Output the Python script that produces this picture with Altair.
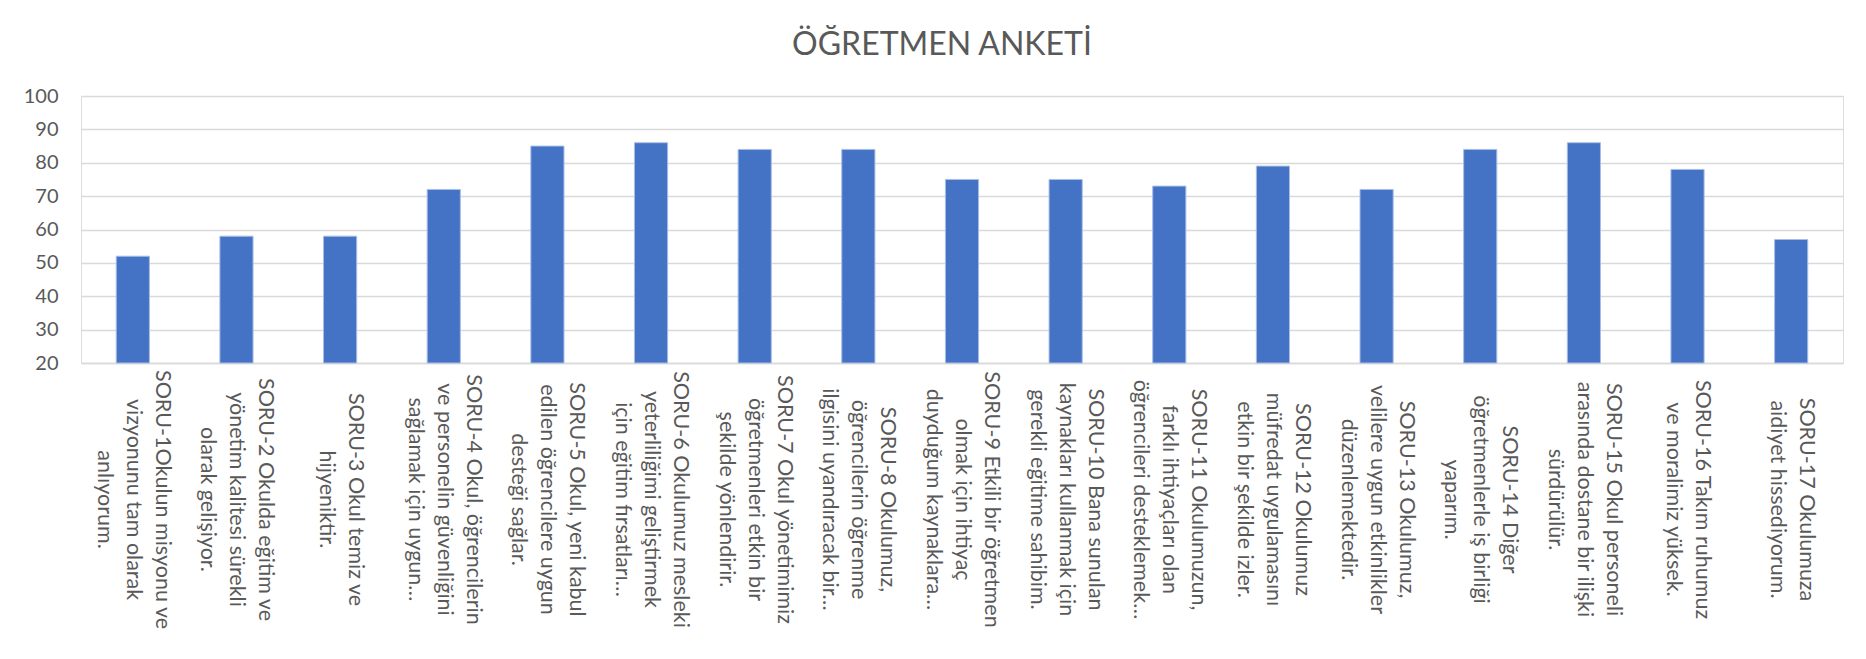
import altair as alt
import pandas as pd

title_text = "ÖĞRETMEN ANKETİ"

questions = [
    ["SORU-1Okulun misyonu ve", "vizyonunu tam olarak", "anlıyorum."],
    ["SORU-2 Okulda eğitim ve", "yönetim kalitesi sürekli", "olarak gelişiyor."],
    ["SORU-3 Okul temiz ve", "hijyeniktir."],
    ["SORU-4 Okul, öğrencilerin", "ve personelin güvenliğini", "sağlamak için uygun…"],
    ["SORU-5 Okul, yeni kabul", "edilen öğrencilere uygun", "desteği sağlar."],
    ["SORU-6 Okulumuz mesleki", "yeterliliğimi geliştirmek", "için eğitim fırsatları…"],
    ["SORU-7 Okul yönetimimiz", "öğretmenleri etkin bir", "şekilde yönlendirir."],
    ["SORU-8 Okulumuz,", "öğrencilerin öğrenme", "ilgisini uyandıracak bir…"],
    ["SORU-9 Etkili bir öğretmen", "olmak için ihtiyaç", "duyduğum kaynaklara…"],
    ["SORU-10 Bana sunulan", "kaynakları kullanmak için", "gerekli eğitime sahibim."],
    ["SORU-11 Okulumuzun,", "farklı ihtiyaçları olan", "öğrencileri desteklemek…"],
    ["SORU-12 Okulumuz", "müfredat uygulamasını", "etkin bir şekilde izler."],
    ["SORU-13 Okulumuz,", "velilere uygun etkinlikler", "düzenlemektedir."],
    ["SORU-14 Diğer", "öğretmenlerle iş birliği", "yaparım."],
    ["SORU-15 Okul personeli", "arasında dostane bir ilişki", "sürdürülür."],
    ["SORU-16 Takım ruhumuz", "ve moralimiz yüksek."],
    ["SORU-17 Okulumuza", "aidiyet hissediyorum."],
]

scores = [52, 58, 58, 72, 85, 86, 84, 84, 75, 75, 73, 79, 72, 84, 86, 78, 57]

y_ticks = [20, 30, 40, 50, 60, 70, 80, 90, 100]

df = pd.DataFrame({"soru": ["|".join(q) for q in questions], "puan": scores})

FONT = "Lato"
TEXT_COLOR = "#595959"
GRID = "#D9D9D9"
LINE_H = 29

bars = alt.Chart(df).mark_bar(
    color="#4472C4", stroke="#A9BEE6", strokeWidth=1
).encode(
    x=alt.X(
        "soru:N",
        sort=None,
        title=None,
        scale=alt.Scale(paddingInner=0.68, paddingOuter=0.34),
        axis=alt.Axis(
            labelAngle=90,
            labelAlign="center",
            labelBaseline="middle",
            labelExpr="split(datum.label, '|')",
            labelOffset={
                "condition": {
                    "test": "length(split(datum.label, '|')) == 3",
                    "value": LINE_H,
                },
                "value": LINE_H / 2,
            },
            labelFont=FONT,
            labelFontSize=21.5,
            labelLineHeight=LINE_H,
            labelColor=TEXT_COLOR,
            labelPadding=136,
            labelLimit=400,
            ticks=False,
            domain=True,
            domainColor=GRID,
            domainWidth=1.5,
        ),
    ),
    y=alt.Y(
        "puan:Q",
        title=None,
        scale=alt.Scale(domain=[20, 100], zero=False, nice=False),
        axis=alt.Axis(
            values=y_ticks,
            labelFont=FONT,
            labelFontSize=20,
            labelColor=TEXT_COLOR,
            labelPadding=23,
            ticks=False,
            domain=False,
            gridColor=GRID,
            gridWidth=1.5,
        ),
    ),
    y2=alt.datum(20),
)

chart = bars.properties(
    width=1762,
    height=267,
    autosize=alt.AutoSizeParams(type="none"),
    padding={"left": 73, "top": 88, "right": 12, "bottom": 277},
    title=alt.Title(
        title_text,
        font=FONT,
        fontSize=32,
        fontWeight="normal",
        color=TEXT_COLOR,
        anchor="middle",
        offset=24,
        dx=-20,
    ),
).configure_view(stroke=None).configure(background="white")

chart.save("out.html", embed_options={"renderer": "svg", "actions": False})
